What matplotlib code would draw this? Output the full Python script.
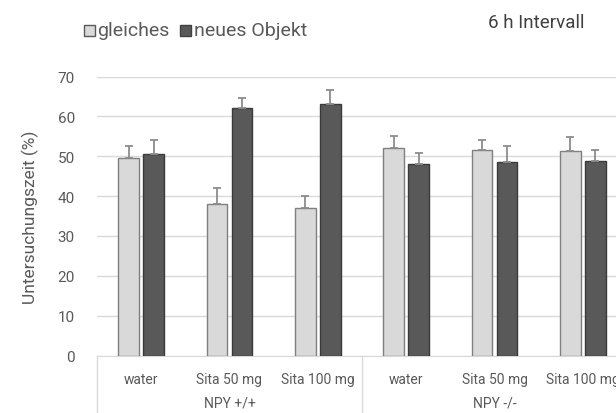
import matplotlib
matplotlib.use("Agg")
from matplotlib import pyplot as plt
import numpy as np

# data
categories = ["water", "Sita 50 mg", "Sita 100 mg", "water", "Sita 50 mg", "Sita 100 mg"]
groups = ["NPY +/+", "NPY -/-"]
gleiches = [49.5, 37.9, 36.9, 52.0, 51.5, 51.2]
gleiches_err = [3.0, 4.0, 3.0, 3.0, 2.6, 3.5]
neues = [50.5, 62.0, 63.0, 48.0, 48.5, 48.9]
neues_err = [3.5, 2.5, 3.6, 2.7, 4.0, 2.7]

plt.rcParams['font.family'] = ['Roboto', 'DejaVu Sans']

fig = plt.figure(figsize=(6.16, 4.14), dpi=100)
ax = fig.add_axes([97/616, 57.5/414, 530/616, 279/414])

x = np.arange(len(categories))
w = 0.235
off = 0.142
ax.bar(x - off, gleiches, w, color="#d9d9d9", edgecolor="#7f7f7f", linewidth=1, zorder=3)
ax.bar(x + off, neues, w, color="#595959", edgecolor="#3a3a3a", linewidth=1, zorder=3)
ax.errorbar(x - off, gleiches, yerr=[np.zeros(6), gleiches_err], fmt="none",
            ecolor="#8c8c8c", elinewidth=1.3, capsize=3, capthick=1.3, zorder=4)
ax.errorbar(x + off, neues, yerr=[np.zeros(6), neues_err], fmt="none",
            ecolor="#8c8c8c", elinewidth=1.3, capsize=3, capthick=1.3, zorder=4)

ax.set_xlim(-0.5, 5.5)
ax.set_ylim(0, 70)
ax.set_yticks(range(0, 71, 10))
ax.yaxis.grid(True, color="#d9d9d9", linewidth=1)
ax.set_axisbelow(True)
for s in ["top", "right", "left"]:
    ax.spines[s].set_visible(False)
ax.spines["bottom"].set_color("#d9d9d9")
ax.tick_params(axis="y", length=0, labelsize=11, labelcolor="#595959", pad=16)
ax.set_xticks(x)
ax.set_xticklabels(categories)
ax.tick_params(axis="x", length=0, labelsize=10, labelcolor="#595959", pad=12)

# group labels and separator lines below the axis
tr = ax.get_xaxis_transform()
for i, g in enumerate(groups):
    ax.text(1 + 3 * i, -0.168, g, transform=tr, ha="center", va="center",
            fontsize=10, color="#595959")
for xs in [-0.5, 2.5, 5.5]:
    ax.plot([xs, xs], [0, -0.21], transform=tr, color="#d9d9d9", linewidth=1, clip_on=False)

ax.set_ylabel("Untersuchungszeit (%)", fontsize=12.5, color="#595959", labelpad=13)

# legend
fig.patches.append(plt.Rectangle((84/616, 1 - 37/414), 11/616, 11/414, transform=fig.transFigure,
                                 facecolor="#d9d9d9", edgecolor="#595959", linewidth=1))
fig.text(97/616, 1 - 31/414, "gleiches", fontsize=14, color="#595959", va="center")
fig.patches.append(plt.Rectangle((180/616, 1 - 37/414), 11/616, 11/414, transform=fig.transFigure,
                                 facecolor="#595959", edgecolor="#404040", linewidth=1))
fig.text(194/616, 1 - 31/414, "neues Objekt", fontsize=14, color="#595959", va="center")

fig.text(536/616, 1 - 23/414, "6 h Intervall", fontsize=13.5, color="#404040", ha="center", va="center")

fig.savefig("out.png", dpi=100)
